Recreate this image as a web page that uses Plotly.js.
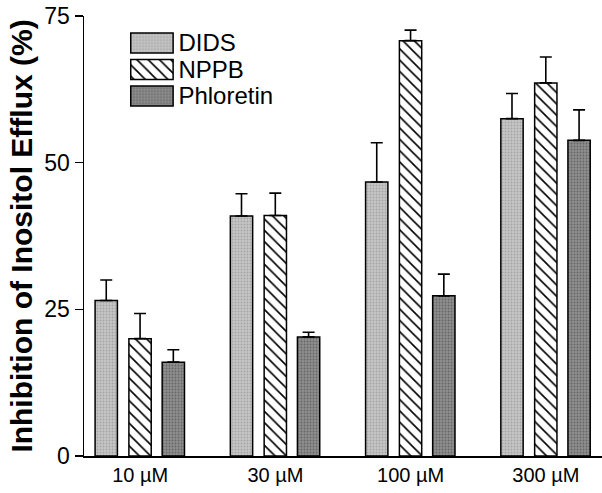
<!DOCTYPE html>
<html><head><meta charset="utf-8">
<script src="https://cdn.plot.ly/plotly-3.0.1.min.js"></script>
<style>body{margin:0;background:#fff}#c{width:602px;height:493px}</style>
</head><body><div id="c"></div>
<script>
const categories = ["10 \u00b5M", "30 \u00b5M", "100 \u00b5M", "300 \u00b5M"];
const seriesNames = ["DIDS", "NPPB", "Phloretin"];
const didsVals = [26.5, 40.9, 46.7, 57.5];
const didsErr = [3.5, 3.8, 6.7, 4.3];
const nppbVals = [20.0, 41.0, 70.8, 63.6];
const nppbErr = [4.3, 3.8, 1.8, 4.4];
const phlorVals = [16.0, 20.3, 27.3, 53.8];
const phlorErr = [2.1, 0.8, 3.7, 5.2];
const yTicks = [0, 25, 50, 75];

const xIdx = categories.map((c, i) => i);
const zeros = categories.map(() => 0);
const W = 0.165;
const line = {color: "#000", width: 1.5};
const fills = [
  {color: "#c2c2c2", line: line, pattern: {shape: ".", bgcolor: "#c6c6c6", fgcolor: "#a4a4a4", size: 3, solidity: 0.3}},
  {color: "#ffffff", line: line, pattern: {shape: "\\", bgcolor: "#ffffff", fgcolor: "#000", size: 8, solidity: 0.2}},
  {color: "#8c8c8c", line: line, pattern: {shape: ".", bgcolor: "#8e8e8e", fgcolor: "#666666", size: 3, solidity: 0.3}}
];
function tr(i, y, err, off) {
  return {
    type: "bar", name: seriesNames[i], x: xIdx, y: y, width: W, offset: off,
    marker: fills[i], showlegend: false,
    error_y: {type: "data", symmetric: false, array: err, arrayminus: zeros,
              color: "#000", thickness: 1.6, width: 6}
  };
}
const data = [
  tr(0, didsVals, didsErr, -0.333),
  tr(1, nppbVals, nppbErr, -0.083),
  tr(2, phlorVals, phlorErr, 0.163)
];
// legend drawn as a small inset of horizontal swatch bars
seriesNames.forEach((n, i) => {
  data.push({type: "bar", orientation: "h", x: [1], y: [i], base: 0, width: 0.755,
             marker: fills[i], xaxis: "x2", yaxis: "y2", showlegend: false, hoverinfo: "skip"});
});
const layout = {
  width: 602, height: 493,
  margin: {l: 84, r: 0, t: 16, b: 37},
  paper_bgcolor: "#fff", plot_bgcolor: "rgba(0,0,0,0)",
  font: {family: "Liberation Sans, Arial", color: "#000"},
  showlegend: false,
  xaxis: {range: [-0.415, 3.415], tickvals: xIdx, ticktext: categories, showgrid: false,
          zeroline: false, showline: true, linecolor: "#000", linewidth: 1.5, ticks: "",
          tickfont: {size: 20}, fixedrange: true},
  yaxis: {range: [0, 75], tickvals: yTicks, ticktext: yTicks.map(String), showgrid: false,
          zeroline: false, showline: true, linecolor: "#000", linewidth: 1.5,
          ticks: "outside", ticklen: 8, tickwidth: 1.5, tickcolor: "#000",
          tickfont: {size: 23}, ticklabelstandoff: 0,
          title: {text: "<b>Inhibition of Inositol Efflux (%)</b>", standoff: 3,
                  font: {size: 30}}},
  xaxis2: {domain: [0.0878, 0.1745], range: [-0.03, 1.03], anchor: "y2", visible: false, fixedrange: true},
  yaxis2: {domain: [0.788, 0.969], range: [2.5, -0.5], anchor: "x2", side: "right",
           tickvals: [0, 1, 2], ticktext: seriesNames, showgrid: false, zeroline: false,
           showline: false, ticks: "", tickfont: {size: 24}, ticklabelstandoff: 3, fixedrange: true}
};
Plotly.newPlot("c", data, layout, {staticPlot: true});
</script></body></html>
